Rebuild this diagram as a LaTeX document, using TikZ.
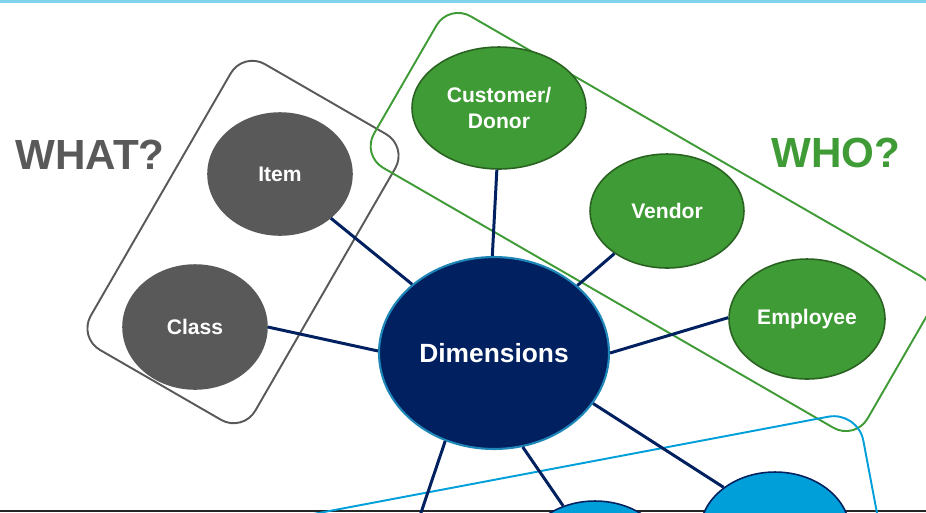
\documentclass[tikz,border=0pt]{standalone}
\usepackage{fontspec}
\setmainfont{Liberation Sans}
\usetikzlibrary{shapes.geometric}
\definecolor{navy}{HTML}{002060}
\definecolor{grey}{HTML}{595959}
\definecolor{leaf}{HTML}{3F9B35}
\definecolor{darkleaf}{HTML}{2A6222}
\definecolor{sky}{HTML}{009FDA}
\definecolor{rim}{HTML}{1F86B8}
\definecolor{topline}{HTML}{7FD3EA}

\begin{document}
\begin{tikzpicture}[x=0.02cm,y=-0.02cm,
	main node/.style={ellipse,draw,line width=0.9pt,inner sep=0pt,text=white,align=center,font=\fontsize{12}{14.6}\selectfont\bfseries},
	what node/.style={main node,fill=grey,draw=grey},
	who node/.style={main node,fill=leaf,draw=darkleaf},
	where node/.style={main node,fill=sky,draw=navy,minimum width=3cm,minimum height=2.4cm},
	group box/.style={rectangle,rounded corners=0.5cm,draw,line width=1.1pt,inner sep=0pt,outer sep=0pt},
	link/.style={draw=navy,line width=1.7pt}]
			
			\useasboundingbox (0,0) rectangle (926,512);
			\clip (0,0) rectangle (926,512);
			
			% frame lines
			\fill[topline] (0,0) rectangle (926,2.5);
			\fill[black!85] (0,509.5) rectangle (926,512);
			
			% groups
			\node[group box,draw=grey,rotate=-30,minimum width=3.8cm,minimum height=6.6cm] (g1) at (243,242) {};
			\node[group box,draw=leaf,rotate=-30,minimum width=11.4cm,minimum height=3.5cm] (g2) at (652,222) {};
			\node[group box,draw=sky,rotate=10.7,minimum width=21.3cm,minimum height=6.76cm,rounded corners=0.6cm] (g3) at (366,676) {};
			
			\node[text=grey,font=\fontsize{24}{28}\selectfont\bfseries] (t1) at (90,155) {WHAT?};
			\node[text=leaf,font=\fontsize{24}{28}\selectfont\bfseries] (t2) at (836,153) {WHO?};
			
			% dimensions
			\node[main node,fill=navy,draw=rim,line width=1.2pt,minimum width=4.6cm,minimum height=3.84cm,font=\fontsize{15}{18}\selectfont\bfseries] (1) at (494,353) {Dimensions};
			
			\node[what node,minimum width=2.88cm,minimum height=2.44cm] (2) at (280,174) {Item};
			\node[what node,minimum width=2.88cm,minimum height=2.48cm] (3) at (195,327) {Class};
			
			\node[who node,minimum width=3.48cm,minimum height=2.44cm] (4) at (499,108) {Customer/\\Donor};
			\node[who node,minimum width=3.08cm,minimum height=2.28cm] (5) at (667,211) {Vendor};
			\node[who node,minimum width=3.12cm,minimum height=2.4cm] (6) at (807,319) {Employee};
			
			\node[where node] (7) at (595,561) {};
			\node[where node] (8) at (775,532) {};
			\coordinate (9) at (403,566);
			
			\path[link]
			(1.140) edge (2.319)
			(1.179) edge (3.0)
			(1.91) edge (4.268)
			(1.39) edge (5.219)
			(1.0) edge (6.179)
			(1.241) edge (9)
			(1.287) edge (7.120)
			(1.333) edge (8.139)
			;
			\end{tikzpicture}
\end{document}
